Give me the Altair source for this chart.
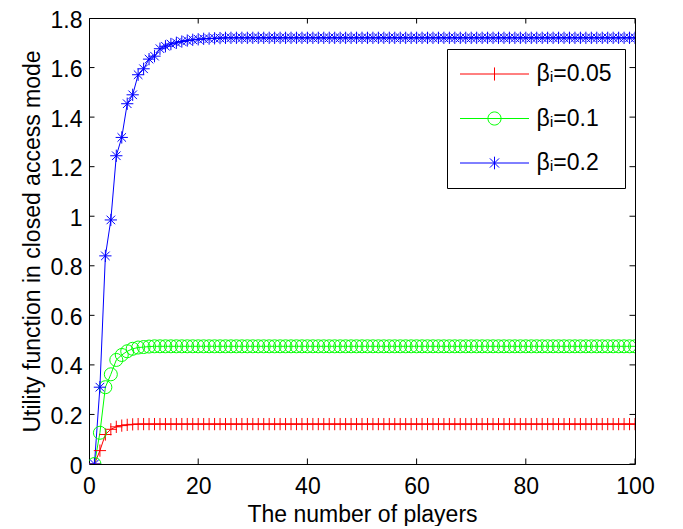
import altair as alt
import pandas as pd

FONT = "Liberation Sans, Arial, Helvetica, sans-serif"
FS = 23

players = list(range(1, 101))

series_names = ["βᵢ=0.05", "βᵢ=0.1", "βᵢ=0.2"]
colors = ["#ff0000", "#00ff00", "#0000ff"]

beta_005 = [
    0.000, 0.054, 0.119, 0.140, 0.150, 0.155, 0.158, 0.160, 0.161, 0.161,
    0.161, 0.161, 0.161, 0.161, 0.161, 0.161, 0.161, 0.161, 0.161, 0.161,
    0.161, 0.161, 0.161, 0.161, 0.161, 0.161, 0.161, 0.161, 0.161, 0.161,
    0.161, 0.161, 0.161, 0.161, 0.161, 0.161, 0.161, 0.161, 0.161, 0.161,
    0.161, 0.161, 0.161, 0.161, 0.161, 0.161, 0.161, 0.161, 0.161, 0.161,
    0.161, 0.161, 0.161, 0.161, 0.161, 0.161, 0.161, 0.161, 0.161, 0.161,
    0.161, 0.161, 0.161, 0.161, 0.161, 0.161, 0.161, 0.161, 0.161, 0.161,
    0.161, 0.161, 0.161, 0.161, 0.161, 0.161, 0.161, 0.161, 0.161, 0.161,
    0.161, 0.161, 0.161, 0.161, 0.161, 0.161, 0.161, 0.161, 0.161, 0.161,
    0.161, 0.161, 0.161, 0.161, 0.161, 0.161, 0.161, 0.161, 0.161, 0.161,
]
beta_01 = [
    0.000, 0.126, 0.310, 0.362, 0.420, 0.440, 0.455, 0.465, 0.470, 0.472,
    0.474, 0.475, 0.475, 0.475, 0.475, 0.475, 0.475, 0.475, 0.475, 0.475,
    0.475, 0.475, 0.475, 0.475, 0.475, 0.475, 0.475, 0.475, 0.475, 0.475,
    0.475, 0.475, 0.475, 0.475, 0.475, 0.475, 0.475, 0.475, 0.475, 0.475,
    0.475, 0.475, 0.475, 0.475, 0.475, 0.475, 0.475, 0.475, 0.475, 0.475,
    0.475, 0.475, 0.475, 0.475, 0.475, 0.475, 0.475, 0.475, 0.475, 0.475,
    0.475, 0.475, 0.475, 0.475, 0.475, 0.475, 0.475, 0.475, 0.475, 0.475,
    0.475, 0.475, 0.475, 0.475, 0.475, 0.475, 0.475, 0.475, 0.475, 0.475,
    0.475, 0.475, 0.475, 0.475, 0.475, 0.475, 0.475, 0.475, 0.475, 0.475,
    0.475, 0.475, 0.475, 0.475, 0.475, 0.475, 0.475, 0.475, 0.475, 0.475,
]
beta_02 = [
    0.000, 0.310, 0.840, 0.985, 1.244, 1.318, 1.454, 1.490, 1.571, 1.595,
    1.634, 1.646, 1.676, 1.686, 1.695, 1.700, 1.705, 1.709, 1.712, 1.714,
    1.716, 1.717, 1.718, 1.719, 1.720, 1.720, 1.720, 1.720, 1.720, 1.720,
    1.720, 1.720, 1.720, 1.720, 1.720, 1.720, 1.720, 1.720, 1.720, 1.720,
    1.720, 1.720, 1.720, 1.720, 1.720, 1.720, 1.720, 1.720, 1.720, 1.720,
    1.720, 1.720, 1.720, 1.720, 1.720, 1.720, 1.720, 1.720, 1.720, 1.720,
    1.720, 1.720, 1.720, 1.720, 1.720, 1.720, 1.720, 1.720, 1.720, 1.720,
    1.720, 1.720, 1.720, 1.720, 1.720, 1.720, 1.720, 1.720, 1.720, 1.720,
    1.720, 1.720, 1.720, 1.720, 1.720, 1.720, 1.720, 1.720, 1.720, 1.720,
    1.720, 1.720, 1.720, 1.720, 1.720, 1.720, 1.720, 1.720, 1.720, 1.720,
]

x_ticks = [0, 20, 40, 60, 80, 100]
y_ticks = [0, 0.2, 0.4, 0.6, 0.8, 1.0, 1.2, 1.4, 1.6, 1.8]

# marker glyphs (MATLAB '+', 'o', '*')
marker_shapes = [
    "M-1,0H1M0,-1V1",
    "circle",
    "M-1,0H1M0,-1V1M-0.7,-0.7L0.7,0.7M-0.7,0.7L0.7,-0.7",
]
marker_sizes = [150, 169, 150]

# legend glyphs: line sample with marker in the middle (unit = 11.5 px)
legend_shapes = [
    "M-3,0H3M0,-0.57V0.57",
    "M-3,0H3M0.57,0A0.57,0.57,0,1,1,-0.57,0A0.57,0.57,0,1,1,0.57,0",
    "M-3,0H3M0,-0.55V0.55M-0.4,-0.4L0.4,0.4M-0.4,0.4L0.4,-0.4",
]

rows = []
for name, vals in zip(series_names, [beta_005, beta_01, beta_02]):
    for p, v in zip(players, vals):
        rows.append({"x": p, "y": v, "series": name})
df = pd.DataFrame(rows)

xscale = alt.Scale(domain=[0, 100], nice=False, zero=False)
yscale = alt.Scale(domain=[0, 1.8], nice=False, zero=False)

x_axis = alt.Axis(
    values=x_ticks, format="d", ticks=False, domain=False, grid=False,
    labelFont=FONT, labelFontSize=FS, labelColor="black", labelPadding=11,
    labelFlush=False, title="The number of players", titleFont=FONT,
    titleFontSize=FS, titleFontWeight="normal", titleColor="black",
    titlePadding=5,
)
y_axis = alt.Axis(
    values=y_ticks, format=".1~f", ticks=False, domain=False, grid=False,
    labelFont=FONT, labelFontSize=FS, labelColor="black", labelPadding=7,
    labelOffset=2, labelFlush=False,
    title="Utility function in closed access mode", titleFont=FONT,
    titleFontSize=FS, titleFontWeight="normal", titleColor="black",
    titlePadding=6,
)

X = alt.X("x:Q", scale=xscale, axis=x_axis)
Y = alt.Y("y:Q", scale=yscale, axis=y_axis)

legend_kw = dict(
    title=None, orient="none", legendX=358, legendY=31,
    strokeColor="black", fillColor="white", padding=13,
    labelFont=FONT, labelFontSize=FS, labelColor="black",
    symbolSize=529, symbolStrokeWidth=1, symbolOffset=22.5,
    labelOffset=30, rowPadding=20.5, cornerRadius=0,
)
color_enc = alt.Color(
    "series:N", scale=alt.Scale(domain=series_names, range=colors),
    legend=alt.Legend(**legend_kw),
)

base = alt.Chart(df)

lines = base.mark_line(strokeWidth=1, clip=True).encode(x=X, y=Y, color=color_enc)

marker_layers = []
for name, col, shp, sz in zip(series_names, colors, marker_shapes, marker_sizes):
    marker_layers.append(
        base.transform_filter(alt.datum.series == name)
        .mark_point(shape=shp, size=sz, filled=False, color=col, strokeWidth=1, opacity=1, clip=True)
        .encode(x=X, y=Y)
    )

legend_layer = base.transform_filter("false").mark_point(filled=False, strokeWidth=1, opacity=1).encode(
    x=X, y=Y,
    color=color_enc,
    shape=alt.Shape("series:N", scale=alt.Scale(domain=series_names, range=legend_shapes),
                    legend=alt.Legend(**legend_kw)),
)

xt = pd.DataFrame({"t": x_ticks})
yt = pd.DataFrame({"t": y_ticks})
tick_style = dict(size=11, thickness=1, color="black", opacity=1, clip=True)
bottom_ticks = alt.Chart(xt).mark_tick(orient="vertical", **tick_style).encode(
    x=alt.X("t:Q", scale=xscale, axis=x_axis), y=alt.datum(0))
top_ticks = alt.Chart(xt).mark_tick(orient="vertical", **tick_style).encode(
    x=alt.X("t:Q", scale=xscale, axis=x_axis), y=alt.datum(1.8))
left_ticks = alt.Chart(yt).mark_tick(orient="horizontal", **tick_style).encode(
    y=alt.Y("t:Q", scale=yscale, axis=y_axis), x=alt.datum(0))
right_ticks = alt.Chart(yt).mark_tick(orient="horizontal", **tick_style).encode(
    y=alt.Y("t:Q", scale=yscale, axis=y_axis), x=alt.datum(100))

chart = alt.layer(
    bottom_ticks, top_ticks, left_ticks, right_ticks,
    lines, *marker_layers, legend_layer,
).properties(
    width=546, height=446,
    autosize=alt.AutoSizeParams(type="none"),
    padding={"left": 81, "top": 10, "right": 36, "bottom": 62},
    background="white",
).configure_view(stroke="black", strokeWidth=1)

chart.save("out.html", embed_options={"renderer": "svg", "actions": False})
